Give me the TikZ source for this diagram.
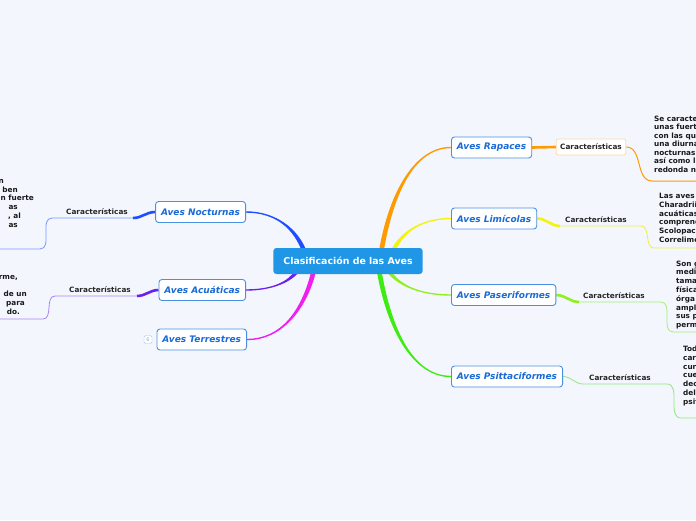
\documentclass[tikz,border=0pt]{standalone}
\usepackage{fontspec}
\setmainfont{DejaVu Sans}
\usetikzlibrary{calc}
\pgfdeclarelayer{bg}
\pgfdeclarelayer{links}
\pgfsetlayers{bg,links,main}
\definecolor{paper}{HTML}{F3F6FD}
\definecolor{rootblue}{HTML}{1F96E6}
\definecolor{topicline}{HTML}{4A90E2}
\definecolor{topictext}{HTML}{1A6BD6}
\definecolor{noctcol}{HTML}{1F4DFF}
\definecolor{noctthin}{HTML}{7896FF}
\definecolor{acuacol}{HTML}{6B1FF2}
\definecolor{acuathin}{HTML}{AA82FA}
\definecolor{terrcol}{HTML}{F01FF0}
\definecolor{rapcol}{HTML}{FF9A00}
\definecolor{rapbox}{HTML}{FFD9A8}
\definecolor{limcol}{HTML}{F3F30C}
\definecolor{limthin}{HTML}{EEEE40}
\definecolor{pascol}{HTML}{8EF01C}
\definecolor{pasthin}{HTML}{A8F070}
\definecolor{psicol}{HTML}{3FEC12}
\definecolor{psithin}{HTML}{8CEB78}
\tikzset{
  root node/.style={
    rounded corners=3pt,
    fill=rootblue,
    text=white,
    font=\fontsize{9.4}{11}\selectfont\bfseries,
    minimum height=26pt,
    inner xsep=10pt,
  },
  topic node/.style={
    rounded corners=3pt,
    draw=topicline,
    line width=0.9pt,
    fill=white,
    text=topictext,
    font=\fontsize{9}{11}\selectfont\bfseries\itshape,
    minimum height=21pt,
    inner xsep=5.5pt,
  },
  feature/.style={
    font=\fontsize{7.3}{9}\selectfont\bfseries,
    text=black!85,
    inner sep=0pt,
    anchor=base west,
  },
  feature box/.style={
    feature,
    anchor=center,
    rounded corners=2pt,
    draw=rapbox,
    line width=0.8pt,
    fill=white,
    minimum height=16pt,
    inner xsep=4pt,
  },
  detail/.style={
    font=\fontsize{7.3}{9}\selectfont\bfseries,
    text=black!90,
    inner sep=0pt,
  },
  fold mark/.style={
    rounded corners=1.5pt,
    draw=topicline!50,
    fill=white,
    text=topicline!70,
    font=\fontsize{5}{5}\selectfont,
    inner sep=0pt,
    minimum size=8pt,
  },
}
% tapered branch: colour, point at the root, point at the topic, half width
\newcommand\taper[4]{%
  \fill[#1] let \p1=(#2), \p2=(#3), \n1={sign(\x2-\x1)*sign(\y2-\y1)} in
    ({\x1-#4},{\y1}) .. controls ({\x1+0.15*(\x2-\x1)-#4},{\y1+0.6*(\y2-\y1)})
      and ({\x1+0.5*(\x2-\x1)},{\y2+0.7*(\n1)}) .. ({\x2},{\y2+0.7*(\n1)})
    -- ({\x2},{\y2-0.7*(\n1)}) .. controls ({\x1+0.5*(\x2-\x1)},{\y2-0.7*(\n1)})
      and ({\x1+0.15*(\x2-\x1)+#4},{\y1+0.6*(\y2-\y1)}) .. ({\x1+#4},{\y1}) -- cycle;}

\begin{document}
\begin{tikzpicture}[x=1pt, y=-1pt]
  \useasboundingbox (0,0) rectangle (696,520);
  \begin{pgfonlayer}{bg}
    \fill[paper] (0,0) rectangle (696,520);
  \end{pgfonlayer}

  \node[root node] (cen) at (348,261) {Clasificación de las Aves};

  \node[topic node, anchor=east] (noct) at (246,212) {Aves Nocturnas};
  \node[topic node, anchor=east] (acua) at (246,290) {Aves Acuáticas};
  \node[topic node, anchor=east] (terr) at (247,339.5) {Aves Terrestres};
  \node[topic node, anchor=west] (rap) at (451,147.5) {Aves Rapaces};
  \node[topic node, anchor=west] (lim) at (451,218.5) {Aves Limícolas};
  \node[topic node, anchor=west] (pas) at (451,295) {Aves Paseriformes};
  \node[topic node, anchor=west] (psi) at (451,376.5) {Aves Psittaciformes};

  \node[fold mark] (terr-fold) at (148,339.5) {6};

  % características
  \node[feature box] (rap-car) at (591,147) {Características};
  \node[feature] (lim-car) at (565,222) {Características};
  \node[feature] (pas-car) at (583,298) {Características};
  \node[feature] (psi-car) at (589,380) {Características};
  \node[feature] (noct-car) at (66,214) {Características};
  \node[feature] (acua-car) at (69,292) {Características};

  % underlines
  \coordinate (noct-ul-a) at (52,218);
  \coordinate (noct-ul-b) at (133,218);
  \coordinate (noct-det-ul) at (40,249);
  \coordinate (noct-det-end) at (-10,249);
  \coordinate (acua-ul-a) at (55,296);
  \coordinate (acua-ul-b) at (137,296);
  \coordinate (acua-det-ul) at (43,319);
  \coordinate (acua-det-end) at (-10,319);
  \coordinate (rap-det-ul) at (652,181);
  \coordinate (rap-det-end) at (710,181);
  \coordinate (lim-ul-a) at (560,226);
  \coordinate (lim-ul-b) at (641,226);
  \coordinate (lim-det-ul) at (654,248);
  \coordinate (lim-det-end) at (710,248);
  \coordinate (pas-ul-a) at (579,302);
  \coordinate (pas-ul-b) at (661,302);
  \coordinate (pas-det-ul) at (673,332);
  \coordinate (pas-det-end) at (710,332);
  \coordinate (psi-ul-a) at (583,384);
  \coordinate (psi-ul-b) at (667,384);
  \coordinate (psi-det-ul) at (681,418);
  \coordinate (psi-det-end) at (710,418);

  % texts, cut by the page edge
  \foreach \t [count=\i from 0] in {Se caracte, unas fuert, con las qu, una diurna,
      nocturnas, así como l, redonda n}
    \node[detail, anchor=base west] (rap-det-\i) at (654,121+8.5*\i) {\t};
  \foreach \t [count=\i from 0] in {Las aves, Charadrii, acuáticas, comprend,
      Scolopac, Correlimo}
    \node[detail, anchor=base west] (lim-det-\i) at (659,198.5+8.8*\i) {\t};
  \foreach \t [count=\i from 0] in {Son g, medi, tama, física, órga, ampl, sus p, perm}
    \node[detail, anchor=base west] (pas-det-\i) at (676,266+8.8*\i) {\t};
  \foreach \t [count=\i from 0] in {Tod, car, cur, cue, dec, del, psit}
    \node[detail, anchor=base west] (psi-det-\i) at (683,351.5+8.8*\i) {\t};
  \foreach \y/\x/\t [count=\i] in {183/4/n, 192/18/ben, 200.5/34/n fuerte, 209.5/18/as,
      {218.5/21/{, al}}, 227.5/18/as}
    \node[detail, anchor=base east] (noct-det-\i) at (\x,\y) {\t};
  \foreach \y/\x/\t [count=\i] in {{279/18/{rme,}}, 296.5/27/de un, 305.5/25/para, 314/20/do.}
    \node[detail, anchor=base east] (acua-det-\i) at (\x,\y) {\t};

  \begin{pgfonlayer}{links}
    \coordinate (c-noct) at (305,253);
    \coordinate (c-acua) at (298,270);
    \coordinate (c-terr) at (314,270);
    \coordinate (c-rap) at (381,253);
    \coordinate (c-lim) at (392,253);
    \coordinate (c-pas) at (388,270);
    \coordinate (c-psi) at (379,270);

    \taper{noctcol}{c-noct}{noct.east}{2.4pt}
    \taper{acuacol}{c-acua}{acua.east}{2.4pt}
    \taper{terrcol}{c-terr}{terr.east}{2.4pt}
    \taper{rapcol}{c-rap}{rap.west}{2.4pt}
    \taper{limcol}{c-lim}{lim.west}{2.4pt}
    \taper{pascol}{c-pas}{pas.west}{2.4pt}
    \taper{psicol}{c-psi}{psi.west}{2.4pt}

    \draw[noctcol, line width=2.6pt] (noct.west) to[out=180, in=0] (noct-ul-b);
    \draw[noctthin, line width=0.8pt] (noct-ul-b) -- (noct-ul-a)
      to[out=180, in=0] (noct-det-ul) -- (noct-det-end);
    \draw[acuacol, line width=2.6pt] (acua.west) to[out=180, in=0] (acua-ul-b);
    \draw[acuathin, line width=0.8pt] (acua-ul-b) -- (acua-ul-a)
      to[out=180, in=0] (acua-det-ul) -- (acua-det-end);
    \draw[rapcol, line width=2.6pt] (rap.east) -- (rap-car.west);
    \draw[rapcol, line width=1pt] (rap-car.east) to[out=0, in=180] (rap-det-ul) -- (rap-det-end);
    \draw[limcol, line width=2.6pt] (lim.east) to[out=0, in=180] (lim-ul-a);
    \draw[limthin, line width=0.8pt] (lim-ul-a) -- (lim-ul-b)
      to[out=0, in=180] (lim-det-ul) -- (lim-det-end);
    \draw[pascol, line width=2.6pt] (pas.east) to[out=0, in=180] (pas-ul-a);
    \draw[pasthin, line width=0.8pt] (pas-ul-a) -- (pas-ul-b)
      to[out=0, in=180] (pas-det-ul) -- (pas-det-end);
    \draw[psithin, line width=0.8pt] (psi.east) to[out=0, in=180] (psi-ul-a) -- (psi-ul-b)
      to[out=0, in=180] (psi-det-ul) -- (psi-det-end);
  \end{pgfonlayer}
\end{tikzpicture}
\end{document}
